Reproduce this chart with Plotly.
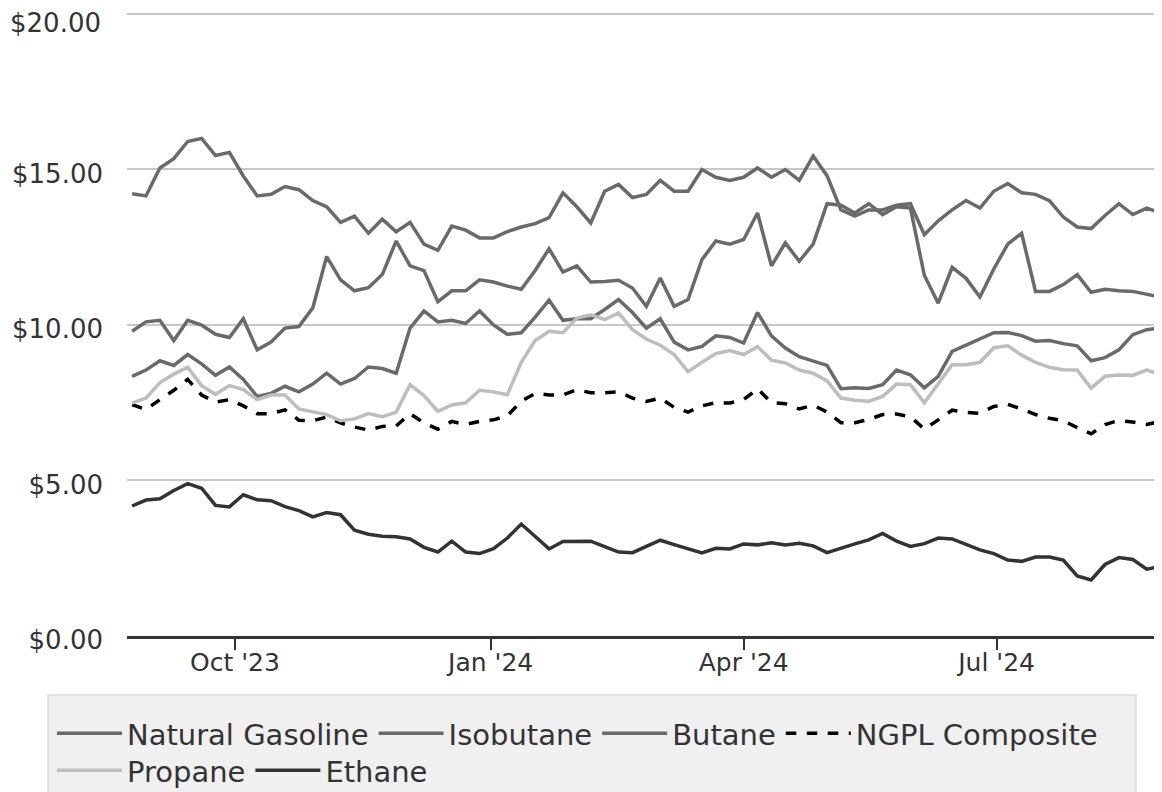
import pandas as pd
import plotly.graph_objects as go

# Dates: samples every 5 days from 2023-08-25
dates = pd.date_range("2023-08-25", periods=75, freq="5D")

natural_gasoline = [
    14.22, 14.15, 15.05, 15.35, 15.9, 16.0, 15.45, 15.55, 14.79, 14.15,
    14.2, 14.45, 14.35, 14.0, 13.8, 13.3, 13.5, 12.95, 13.4, 13.0,
    13.3, 12.6, 12.4, 13.18, 13.05, 12.8, 12.8, 13.0, 13.15, 13.26,
    13.45, 14.25, 13.8, 13.28, 14.3, 14.52, 14.1, 14.2, 14.65, 14.3,
    14.3, 15.0, 14.75, 14.65, 14.75, 15.05, 14.75, 15.0, 14.65, 15.43,
    14.8, 13.7, 13.5, 13.7, 13.7, 13.85, 13.9, 12.9, 13.35, 13.7,
    14.0, 13.76, 14.3, 14.55, 14.25, 14.2, 14.0, 13.47, 13.15, 13.1,
    13.52, 13.9, 13.55, 13.76, 13.6,
]
isobutane = [
    9.8, 10.1, 10.15, 9.5, 10.15, 10.0, 9.7, 9.6, 10.2, 9.2,
    9.45, 9.9, 9.95, 10.55, 12.2, 11.45, 11.1, 11.2, 11.62, 12.7,
    11.9, 11.75, 10.75, 11.1, 11.1, 11.45, 11.38, 11.25, 11.15, 11.75,
    12.45, 11.7, 11.9, 11.38, 11.4, 11.44, 11.19, 10.6, 11.51, 10.6,
    10.82, 12.1, 12.7, 12.6, 12.75, 13.6, 11.9, 12.64, 12.05, 12.6,
    13.9, 13.85, 13.6, 13.9, 13.55, 13.8, 13.76, 11.6, 10.7, 11.85,
    11.5, 10.9, 11.8, 12.6, 12.95, 11.08, 11.08, 11.3, 11.62, 11.05,
    11.15, 11.1, 11.08, 10.98, 10.9,
]
butane = [
    8.35, 8.55, 8.85, 8.7, 9.05, 8.75, 8.38, 8.65, 8.25, 7.7,
    7.8, 8.03, 7.85, 8.1, 8.45, 8.1, 8.28, 8.65, 8.6, 8.45,
    9.9, 10.45, 10.1, 10.15, 10.05, 10.45, 10.0, 9.7, 9.75, 10.25,
    10.8, 10.15, 10.2, 10.2, 10.5, 10.82, 10.4, 9.9, 10.2, 9.45,
    9.2, 9.31, 9.65, 9.6, 9.42, 10.4, 9.65, 9.26, 8.98, 8.85,
    8.7, 7.95, 7.98, 7.96, 8.08, 8.55, 8.4, 7.98, 8.35, 9.15,
    9.35, 9.53, 9.75, 9.76, 9.66, 9.48, 9.5, 9.4, 9.33, 8.85,
    8.95, 9.2, 9.69, 9.85, 9.9,
]
ngpl_composite = [
    7.44, 7.28, 7.6, 7.9, 8.25, 7.75, 7.52, 7.6, 7.4, 7.15,
    7.15, 7.27, 6.94, 6.92, 7.04, 6.85, 6.72, 6.62, 6.74, 6.75,
    7.15, 6.85, 6.65, 6.9, 6.8, 6.9, 6.95, 7.08, 7.55, 7.8,
    7.75, 7.75, 7.92, 7.82, 7.82, 7.85, 7.65, 7.54, 7.65, 7.35,
    7.2, 7.4, 7.5, 7.49, 7.6, 7.95, 7.5, 7.47, 7.3, 7.42,
    7.2, 6.86, 6.86, 6.96, 7.12, 7.14, 7.05, 6.65, 6.95, 7.26,
    7.19, 7.16, 7.38, 7.45, 7.3, 7.12, 7.0, 6.92, 6.7, 6.5,
    6.8, 6.93, 6.88, 6.8, 6.9,
]
propane = [
    7.49, 7.65, 8.15, 8.42, 8.64, 8.05, 7.77, 8.05, 7.92, 7.6,
    7.75, 7.75, 7.3, 7.22, 7.12, 6.92, 6.98, 7.15, 7.05, 7.2,
    8.08, 7.73, 7.22, 7.43, 7.5, 7.9, 7.85, 7.76, 8.8, 9.5,
    9.8, 9.75, 10.22, 10.33, 10.17, 10.39, 9.85, 9.55, 9.35, 9.05,
    8.5, 8.8, 9.08, 9.18, 9.05, 9.3, 8.87, 8.78, 8.55, 8.45,
    8.2, 7.65, 7.58, 7.55, 7.7, 8.1, 8.08, 7.5, 8.1, 8.72,
    8.72, 8.8, 9.27, 9.33, 9.03, 8.8, 8.64, 8.56, 8.55, 7.97,
    8.35, 8.39, 8.38, 8.56, 8.38,
]
ethane = [
    4.18, 4.37, 4.41, 4.68, 4.9, 4.75, 4.2, 4.15, 4.54, 4.38,
    4.35, 4.16, 4.03, 3.83, 3.97, 3.9, 3.4, 3.27, 3.21, 3.19,
    3.12, 2.85, 2.7, 3.05, 2.7, 2.65, 2.81, 3.15, 3.6, 3.2,
    2.8, 3.04, 3.04, 3.05, 2.87, 2.7, 2.68, 2.88, 3.08, 2.94,
    2.8, 2.67, 2.82, 2.8, 2.96, 2.93, 3.0, 2.93, 2.98, 2.9,
    2.68, 2.83, 2.96, 3.09, 3.3, 3.05, 2.88, 2.97, 3.15, 3.12,
    2.95, 2.77, 2.65, 2.44, 2.4, 2.54, 2.54, 2.44, 1.93, 1.8,
    2.3, 2.52, 2.46, 2.15, 2.23,
]

tick_dates = ["2023-10-01", "2024-01-01", "2024-04-01", "2024-07-01"]
tick_labels = ["Oct '23", "Jan '24", "Apr '24", "Jul '24"]
y_ticks = [0, 5, 10, 15, 20]
y_labels = ["$0.00", "$5.00", "$10.00", "$15.00", ""]
top_label = "$20.00"

FONT = "DejaVu Sans, sans-serif"
TXT = "#333333"

# name, values, colour, dash, legend row
series = [
    ("Natural Gasoline", natural_gasoline, "#6a6a6a", "solid", "legend"),
    ("Isobutane", isobutane, "#6a6a6a", "solid", "legend"),
    ("Butane", butane, "#6a6a6a", "solid", "legend"),
    ("NGPL Composite", ngpl_composite, "#000000", "dash", "legend"),
    ("Propane", propane, "#bdbdbd", "solid", "legend2"),
    ("Ethane", ethane, "#333333", "solid", "legend2"),
]

fig = go.Figure()
for name, vals, color, dash, leg in series:
    fig.add_trace(go.Scatter(
        x=dates, y=vals, name=name, mode="lines", legend=leg,
        line=dict(color=color, width=3.5, dash=dash),
    ))

fig.add_annotation(
    text=top_label, xref="paper", yref="y", x=0, y=20,
    xanchor="right", yanchor="middle", xshift=-24, yshift=-9,
    showarrow=False, font=dict(family=FONT, size=26, color=TXT),
)

# legend panel background
fig.add_shape(
    type="rect", xref="paper", yref="paper",
    x0=-0.0763, x1=0.9749, y0=-0.0941, y1=-0.30,
    fillcolor="#f0f0f0", line=dict(color="#dcdcdc", width=1.5),
    layer="below",
)

leg_common = dict(
    orientation="h", xanchor="left", yanchor="top",
    bgcolor="rgba(0,0,0,0)", borderwidth=0,
    font=dict(family=FONT, size=29, color=TXT),
    itemwidth=65, traceorder="normal",
)

fig.update_layout(
    width=1154, height=784,
    margin=dict(l=119, r=0, t=1, b=156, autoexpand=False),
    paper_bgcolor="white", plot_bgcolor="white",
    font=dict(family=FONT, size=26, color=TXT),
    showlegend=True,
    legend=dict(x=-0.0725, y=-0.1148, **leg_common),
    legend2=dict(x=-0.0725, y=-0.1738, **leg_common),
    xaxis=dict(
        type="date",
        range=["2023-08-23 04:00", "2024-08-29 12:00"],
        tickvals=tick_dates, ticktext=tick_labels,
        showgrid=False, zeroline=False, automargin=False,
        showline=True, linecolor="#333333", linewidth=2.5,
        ticks="outside", ticklen=11, tickwidth=2, tickcolor="#333333",
        ticklabelstandoff=-9,
        tickfont=dict(family=FONT, size=25, color=TXT),
    ),
    yaxis=dict(
        range=[0, 20.16], tickvals=y_ticks, ticktext=y_labels,
        showgrid=True, gridcolor="#c8c8c8", gridwidth=2,
        zeroline=False, showline=False, ticks="", automargin=False,
        ticklabelstandoff=23, ticklabelshift=4,
        tickfont=dict(family=FONT, size=26, color=TXT),
    ),
)

fig.write_html("out.html")
